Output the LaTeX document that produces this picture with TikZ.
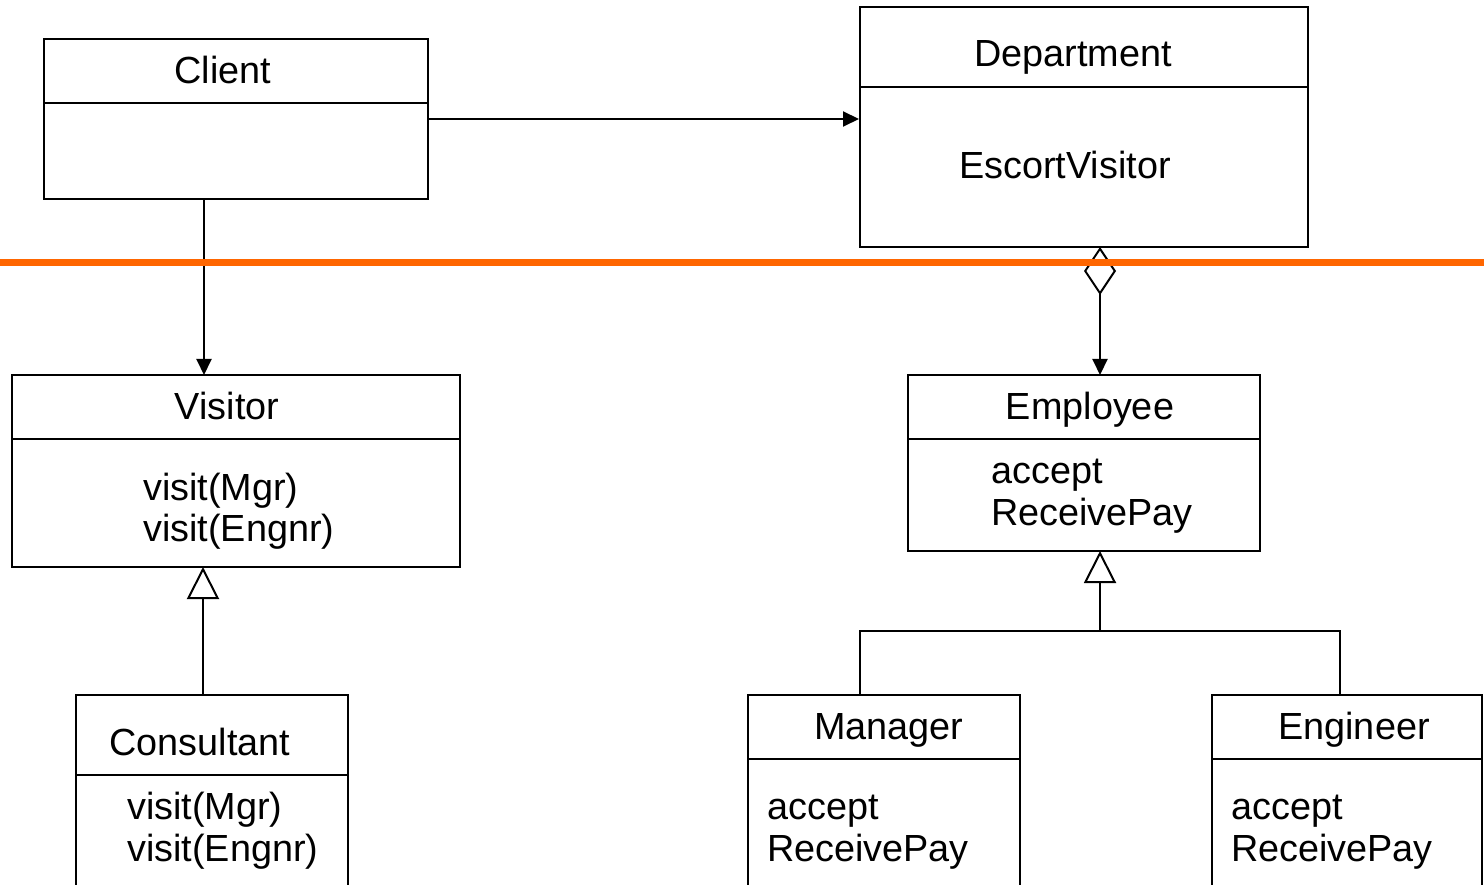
\documentclass[tikz,border=0pt]{standalone}
\usepackage{fontspec}
\setmainfont{Liberation Sans}
\usetikzlibrary{arrows.meta}
\begin{document}
\begin{tikzpicture}[x=1pt,y=-1pt,
  box/.style={draw=black,line width=2pt,fill=white,inner sep=0pt},
  lbl/.style={anchor=base,inner sep=0pt,font=\fontsize{37.8}{42}\selectfont},
  lbll/.style={anchor=base west,inner sep=0pt,font=\fontsize{37.8}{42}\selectfont},
  conn/.style={draw=black,line width=2pt},
  filled/.style={-{Triangle[length=16pt,width=15pt]}},
  hollow/.style={-{Triangle[open,length=32pt,width=32pt,fill=white]}}
]
\useasboundingbox (0,0) rectangle (1484,885);
\clip (0,0) rectangle (1484,885);

% Client
\node[box,minimum width=384pt,minimum height=160pt] (client) at (236,119) {};
\draw[line width=2pt] (44,103) -- (428,103);
\node[lbl] (clientT) at (223,84) {Client};

% Department
\node[box,minimum width=448pt,minimum height=240pt] (dept) at (1084,127) {};
\draw[line width=2pt] (860,87) -- (1308,87);
\node[lbl] (deptT) at (1073,67) {Department};
\node[lbl] (deptB) at (1065,179) {EscortVisitor};

% Visitor
\node[box,minimum width=448pt,minimum height=192pt] (visitor) at (236,471) {};
\draw[line width=2pt] (12,439) -- (460,439);
\node[lbl] (visT) at (227,419) {Visitor};
\node[lbll] (vis1) at (143,500) {visit(Mgr)};
\node[lbll] (vis2) at (143,541) {visit(Engnr)};

% Employee
\node[box,minimum width=352pt,minimum height=176pt] (emp) at (1084,463) {};
\draw[line width=2pt] (908,439) -- (1260,439);
\node[lbl] (empT) at (1090,419) {Employee};
\node[lbll] (emp1) at (991,483) {accept};
\node[lbll] (emp2) at (991,525) {ReceivePay};

% Consultant
\node[box,minimum width=272pt,minimum height=240pt] (cons) at (212,815) {};
\draw[line width=2pt] (76,775) -- (348,775);
\node[lbl] (consT) at (200,755) {Consultant};
\node[lbll] (cons1) at (127,819) {visit(Mgr)};
\node[lbll] (cons2) at (127,861) {visit(Engnr)};

% Manager
\node[box,minimum width=272pt,minimum height=240pt] (mgr) at (884,815) {};
\draw[line width=2pt] (748,759) -- (1020,759);
\node[lbl] (mgrT) at (889,739) {Manager};
\node[lbll] (mgr1) at (767,819) {accept};
\node[lbll] (mgr2) at (767,861) {ReceivePay};

% Engineer
\node[box,minimum width=270pt,minimum height=240pt] (eng) at (1347,815) {};
\draw[line width=2pt] (1212,759) -- (1482,759);
\node[lbl] (engT) at (1354,739) {Engineer};
\node[lbll] (eng1) at (1231,819) {accept};
\node[lbll] (eng2) at (1231,861) {ReceivePay};

% connectors
\draw[conn,filled] (client.east |- 0,119) -- (dept.west |- 0,119);
\draw[conn,filled] (204,199) -- (204,375);
\draw[conn,filled,{Diamond[open,length=48pt,width=32pt,fill=white]}-{Triangle[length=16pt,width=15pt]}] (1100,247) -- (1100,375);
\draw[conn,hollow] (203,695) -- (203,567);
\draw[conn,hollow] (1100,631) -- (1100,551);
\draw[conn] (860,695) -- (860,631) -- (1340,631) -- (1340,695);

% orange separator
\draw[draw={rgb,255:red,255;green,102;blue,0},line width=7pt] (0,263) -- (1484,263);
\end{tikzpicture}
\end{document}
